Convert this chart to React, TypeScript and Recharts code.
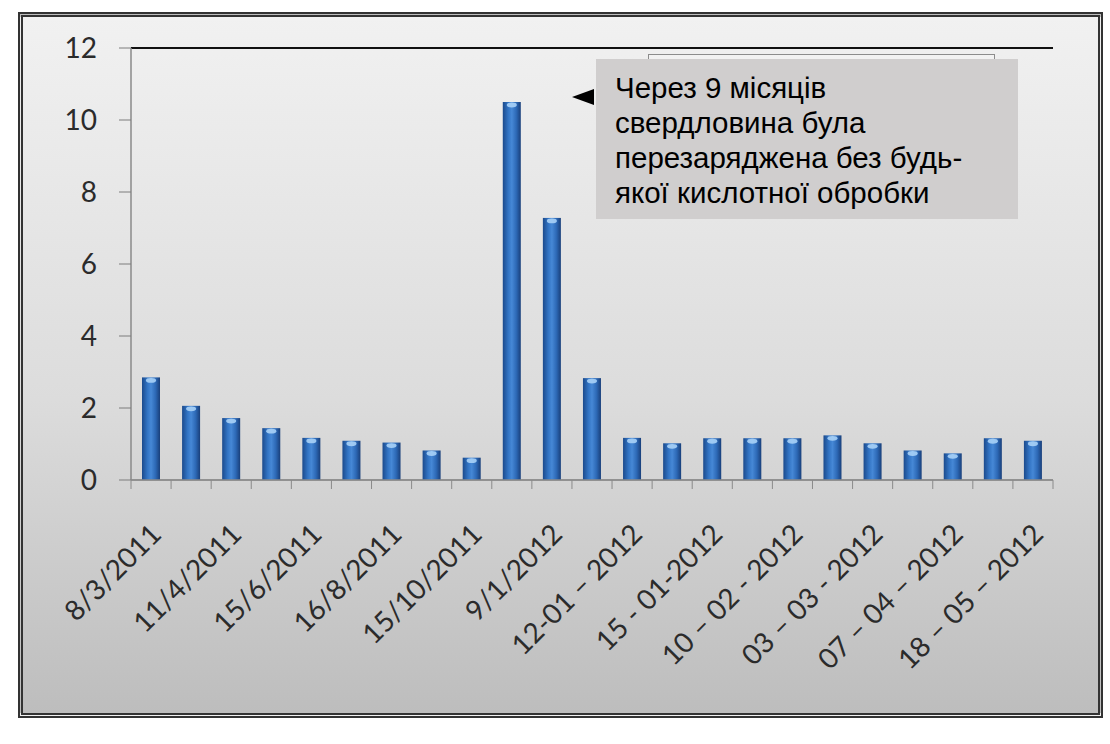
import React from 'react';
import { BarChart, Bar, XAxis, YAxis, CartesianGrid, ReferenceLine } from 'recharts';

const tickLabels = [
  '8/3/2011', '', '11/4/2011', '', '15/6/2011', '', '16/8/2011', '', '15/10/2011', '',
  '9/1/2012', '', '12-01 – 2012', '', '15 - 01-2012', '', '10 – 02 - 2012', '',
  '03 – 03 - 2012', '', '07 – 04 – 2012', '', '18 – 05 – 2012',
];
const values = [
  2.85, 2.06, 1.72, 1.44, 1.17, 1.09, 1.04, 0.82, 0.62, 10.5, 7.28,
  2.83, 1.17, 1.02, 1.16, 1.16, 1.16, 1.24, 1.02, 0.82, 0.74, 1.16, 1.09,
];
const yTicks = [0, 2, 4, 6, 8, 10, 12];
const noteLines = [
  'Через 9 місяців',
  'свердловина була',
  'перезаряджена без будь-',
  'якої кислотної обробки',
];

const data = values.map((v, i) => ({ idx: i, value: v }));

const W = 1110;
const H = 744;
const PLOT_LEFT = 131;
const PLOT_RIGHT = 1053;
const PLOT_TOP = 48;
const PLOT_BOTTOM = 480;
const Y_AXIS_W = 80;
const X_AXIS_H = 100;
const BAND = (PLOT_RIGHT - PLOT_LEFT) / values.length;
const FONT = "Lato, 'Open Sans', sans-serif";

const BarShape = (props: any) => {
  const { x, y, width, height } = props;
  if (!height || height <= 0) return null;
  return (
    <g>
      <rect x={x} y={y} width={width} height={height} fill="url(#barGrad)" />
      <ellipse cx={x + width / 2} cy={y + 3} rx={width * 0.28} ry={2.4} fill="#a9d2f7" opacity={0.9} />
    </g>
  );
};

const XTick = (props: any) => {
  const { x, y, payload, index } = props;
  const i = payload?.index ?? index;
  const label = tickLabels[payload.value] ?? '';
  const ax = x + 12;
  const ay = y + 56;
  return (
    <g>
      <line x1={x - BAND / 2} x2={x - BAND / 2} y1={y} y2={y + 9} stroke="#8a8a8a" strokeWidth={1} />
      {i === values.length - 1 && (
        <line x1={x + BAND / 2} x2={x + BAND / 2} y1={y} y2={y + 9} stroke="#8a8a8a" strokeWidth={1} />
      )}
      {label && (
        <text
          x={ax}
          y={ay}
          transform={`rotate(-45, ${ax}, ${ay})`}
          textAnchor="end"
          fontFamily={FONT}
          fontSize={28}
          fill="#2b2b2b"
        >
          {label}
        </text>
      )}
    </g>
  );
};

export default function App() {
  return (
    <div style={{ position: 'absolute', left: 0, top: 0, width: W, height: H, background: '#ffffff', overflow: 'hidden' }}>
      <div
        style={{
          position: 'absolute',
          left: 18,
          top: 12,
          width: 1085,
          height: 706,
          boxSizing: 'border-box',
          border: '5px double #333',
          background: 'linear-gradient(to bottom, #f1f1f1 0%, #dcdcdc 55%, #bdbdbd 100%)',
        }}
      />
      <div style={{ position: 'absolute', left: 0, top: 0 }}>
        <BarChart
          width={W}
          height={H}
          data={data}
          margin={{ top: PLOT_TOP, left: PLOT_LEFT - Y_AXIS_W, right: W - PLOT_RIGHT, bottom: H - PLOT_BOTTOM - X_AXIS_H }}
          barCategoryGap={0}
        >
          <defs>
            <linearGradient id="barGrad" x1="0" y1="0" x2="1" y2="0">
              <stop offset="0%" stopColor="#1b4a8c" />
              <stop offset="30%" stopColor="#3274c4" />
              <stop offset="50%" stopColor="#4688d6" />
              <stop offset="75%" stopColor="#2d69b6" />
              <stop offset="100%" stopColor="#193f7a" />
            </linearGradient>
          </defs>
          <CartesianGrid vertical={false} stroke="#7d7d7d" strokeWidth={1} />
          <XAxis
            dataKey="idx"
            type="category"
            interval={0}
            height={X_AXIS_H}
            axisLine={{ stroke: '#8a8a8a', strokeWidth: 1.5 }}
            tickLine={false}
            tickSize={0}
            tickMargin={0}
            tick={<XTick />}
          />
          <YAxis
            yAxisId="left"
            width={Y_AXIS_W}
            domain={[0, 12]}
            ticks={yTicks}
            interval={0}
            axisLine={{ stroke: '#8a8a8a', strokeWidth: 1.5 }}
            tickLine={{ stroke: '#7d7d7d' }}
            tickSize={12}
            tickMargin={22}
            tick={{ fontFamily: FONT, fontSize: 28, fill: '#2b2b2b' }}
          />
          <YAxis
            yAxisId="right"
            orientation="right"
            width={0}
            domain={[0, 12]}
            tick={false}
            tickLine={false}
            axisLine={{ stroke: '#111', strokeWidth: 2 }}
          />
          <ReferenceLine yAxisId="left" y={12} stroke="#111" strokeWidth={2} />
          <Bar yAxisId="left" dataKey="value" barSize={18} shape={<BarShape />} isAnimationActive={false} />
        </BarChart>
      </div>
      <div
        style={{
          position: 'absolute',
          left: 648,
          top: 54,
          width: 347,
          height: 60,
          boxSizing: 'border-box',
          border: '1.5px solid #8c8c8c',
          background: '#f2f2f2',
        }}
      />
      <svg style={{ position: 'absolute', left: 0, top: 0 }} width={W} height={H}>
        <polygon points="572,97 594,89 594,105" fill="#000" />
      </svg>
      <div
        style={{
          position: 'absolute',
          left: 596,
          top: 59,
          width: 422,
          height: 160,
          boxSizing: 'border-box',
          background: '#d0cece',
          padding: '11px 0 0 19px',
          fontFamily: "'Liberation Sans', Arial, sans-serif",
          fontSize: 29.5,
          lineHeight: '35px',
          color: '#000',
        }}
      >
        {noteLines.map((l, i) => (
          <div key={i} style={{ whiteSpace: 'nowrap' }}>{l}</div>
        ))}
      </div>
    </div>
  );
}
